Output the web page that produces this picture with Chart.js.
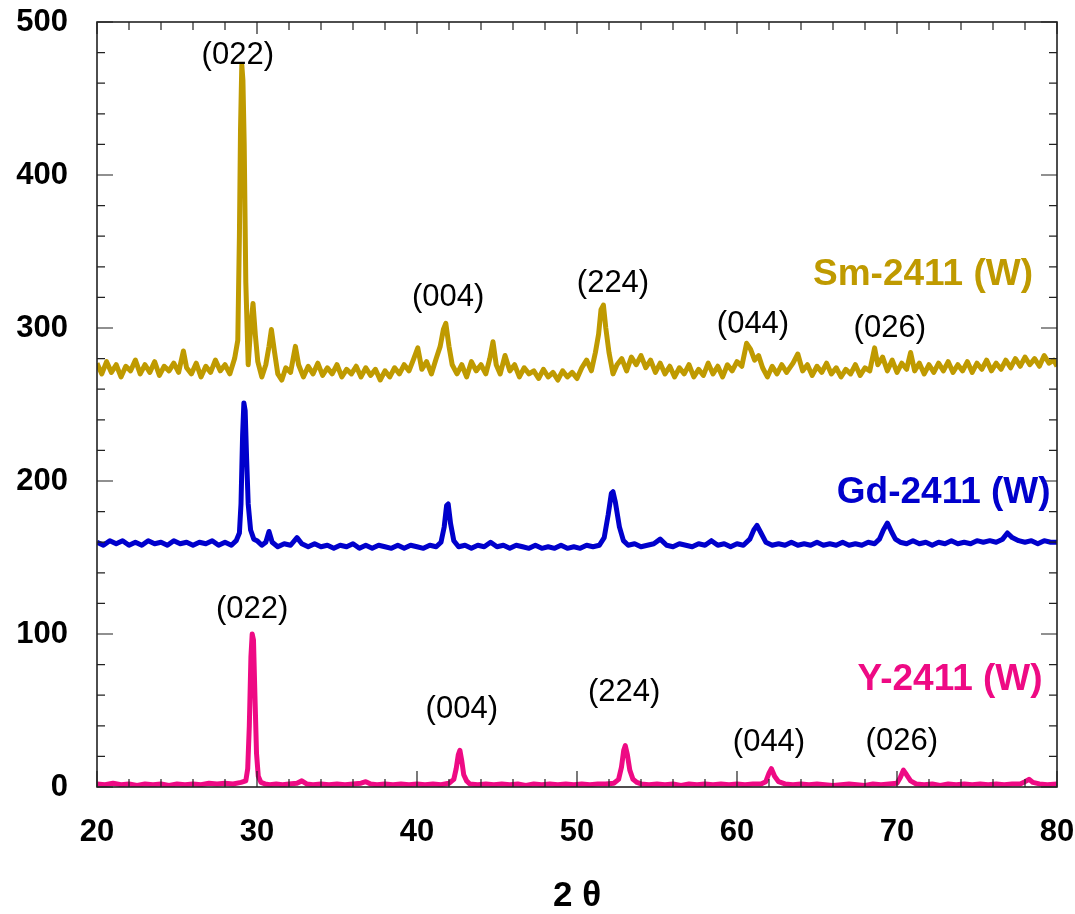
<!DOCTYPE html>
<html>
<head>
<meta charset="utf-8">
<title>XRD 2411 (W)</title>
<script src="https://cdn.jsdelivr.net/npm/chart.js@4/dist/chart.umd.min.js"></script>
<style>
  html, body { margin: 0; padding: 0; background: #fff; }
  #wrap { width: 1075px; height: 914px; }
</style>
</head>
<body>
<div id="wrap"><canvas id="xrd" width="1075" height="914"></canvas></div>
<script>
// [2theta, intensity]
const smPattern = [[20,277],[20.3,270],[20.6,278],[20.9,271],[21.2,276],[21.5,268],[21.8,275],[22.1,272],[22.4,279],[22.7,270],[23,276],[23.3,271],[23.6,278],[23.9,269],[24.2,275],[24.5,272],[24.8,277],[25.1,271],[25.4,285],[25.6,274],[25.9,270],[26.2,277],[26.5,268],[26.8,275],[27.1,271],[27.4,279],[27.7,272],[28,276],[28.3,270],[28.6,280],[28.8,292],[28.9,360],[28.97,430],[29.05,472],[29.12,462],[29.2,420],[29.3,330],[29.45,276],[29.6,300],[29.75,316],[29.9,295],[30.05,278],[30.3,268],[30.55,276],[30.75,288],[30.9,299],[31.1,284],[31.3,270],[31.55,266],[31.8,274],[32.1,271],[32.4,288],[32.6,276],[32.9,268],[33.2,275],[33.5,270],[33.8,277],[34.1,269],[34.4,274],[34.7,270],[35,276],[35.3,268],[35.6,273],[35.9,270],[36.2,275],[36.5,268],[36.8,274],[37.1,269],[37.4,273],[37.7,266],[38,272],[38.3,268],[38.6,274],[38.9,270],[39.2,276],[39.5,272],[39.8,280],[40.05,287],[40.3,273],[40.6,278],[40.9,270],[41.2,280],[41.45,288],[41.65,299],[41.8,303],[42,288],[42.2,276],[42.5,270],[42.8,276],[43.1,268],[43.4,278],[43.7,272],[44,276],[44.3,270],[44.55,280],[44.75,291],[44.95,276],[45.2,270],[45.5,282],[45.8,272],[46.1,276],[46.4,268],[46.7,274],[47,270],[47.3,272],[47.6,267],[47.9,273],[48.2,268],[48.5,271],[48.8,266],[49.1,272],[49.4,268],[49.7,271],[50,267],[50.3,274],[50.6,279],[50.9,272],[51.15,284],[51.35,296],[51.5,312],[51.65,315],[51.8,300],[52,284],[52.25,270],[52.5,276],[52.8,280],[53.1,272],[53.4,281],[53.7,276],[54,282],[54.3,274],[54.6,279],[54.9,271],[55.2,277],[55.5,270],[55.8,275],[56.1,268],[56.4,274],[56.7,270],[57,276],[57.3,268],[57.6,273],[57.9,269],[58.2,277],[58.5,270],[58.8,275],[59.1,268],[59.4,276],[59.7,272],[60,278],[60.3,275],[60.6,290],[60.85,286],[61.1,279],[61.35,282],[61.6,274],[61.9,268],[62.2,275],[62.5,270],[62.8,276],[63.1,271],[63.5,277],[63.8,283],[64.1,272],[64.4,276],[64.7,269],[65,275],[65.3,271],[65.6,277],[65.9,270],[66.2,274],[66.5,268],[66.8,273],[67.1,270],[67.4,276],[67.7,269],[68,274],[68.3,272],[68.6,287],[68.8,276],[69.1,281],[69.4,272],[69.7,279],[70,271],[70.3,277],[70.6,273],[70.85,284],[71.1,272],[71.4,277],[71.7,270],[72,276],[72.3,271],[72.6,277],[72.9,272],[73.2,278],[73.5,271],[73.8,276],[74.1,272],[74.4,278],[74.7,271],[75,277],[75.3,273],[75.6,279],[75.9,272],[76.2,277],[76.5,273],[76.8,279],[77.1,274],[77.4,280],[77.7,275],[78,281],[78.3,276],[78.6,280],[78.9,275],[79.2,282],[79.5,277],[79.8,279],[80,275]];

const gdPattern = [[20,160],[20.4,158],[20.8,161],[21.2,159],[21.6,161],[22,158],[22.4,160],[22.8,158],[23.2,161],[23.6,159],[24,160],[24.4,158],[24.8,161],[25.2,159],[25.6,160],[26,158],[26.4,160],[26.8,159],[27.2,161],[27.6,158],[28,160],[28.4,158],[28.7,161],[28.9,166],[29,185],[29.1,230],[29.18,251],[29.26,246],[29.35,215],[29.45,185],[29.6,168],[29.8,162],[30,161],[30.3,158],[30.55,160],[30.75,167],[30.95,160],[31.3,157],[31.7,159],[32.1,158],[32.5,163],[32.8,159],[33.2,157],[33.6,159],[34,157],[34.4,158],[34.8,156],[35.2,158],[35.6,157],[36,159],[36.4,156],[36.8,158],[37.2,156],[37.6,158],[38,157],[38.4,156],[38.8,158],[39.2,156],[39.6,158],[40,157],[40.4,156],[40.8,158],[41.2,157],[41.5,160],[41.7,170],[41.85,184],[41.95,185],[42.1,172],[42.3,161],[42.6,157],[43,158],[43.4,156],[43.8,158],[44.2,157],[44.6,160],[45,157],[45.4,158],[45.8,156],[46.2,158],[46.6,157],[47,156],[47.4,158],[47.8,156],[48.2,157],[48.6,156],[49,158],[49.4,156],[49.8,157],[50.2,156],[50.6,158],[51,157],[51.4,158],[51.7,163],[51.95,178],[52.15,192],[52.25,193],[52.4,186],[52.65,170],[52.9,161],[53.2,158],[53.6,159],[54,157],[54.4,158],[54.8,159],[55.2,162],[55.6,158],[56,157],[56.4,159],[56.8,158],[57.2,157],[57.6,159],[58,158],[58.4,161],[58.8,158],[59.2,159],[59.6,157],[60,159],[60.4,158],[60.8,162],[61.05,168],[61.25,171],[61.5,166],[61.8,160],[62.2,158],[62.6,159],[63,158],[63.4,160],[63.8,158],[64.2,159],[64.6,158],[65,160],[65.4,158],[65.8,159],[66.2,158],[66.6,160],[67,158],[67.4,159],[67.8,158],[68.2,160],[68.6,159],[68.9,162],[69.15,168],[69.4,172.5],[69.65,167],[69.9,162],[70.2,160],[70.6,159],[71,161],[71.4,159],[71.8,160],[72.2,158],[72.6,160],[73,159],[73.4,161],[73.8,159],[74.2,160],[74.6,159],[75,161],[75.4,160],[75.8,161],[76.2,160],[76.6,162],[76.9,166],[77.2,163],[77.6,161],[78,160],[78.4,161],[78.8,159],[79.2,161],[79.6,160],[80,160]];

const yPattern = [[20,2],[20.5,1.5],[21,2.5],[21.5,1.5],[22,2],[22.5,1],[23,2],[23.5,1.5],[24,2],[24.5,1],[25,2],[25.5,1.5],[26,2],[26.5,1.5],[27,2.5],[27.5,2],[28,2.5],[28.5,2],[29,3],[29.3,4],[29.42,12],[29.52,40],[29.62,85],[29.7,100],[29.78,96],[29.87,60],[29.97,22],[30.08,7],[30.25,3],[30.5,2],[30.8,1.5],[31.2,2],[31.6,1.5],[32,2],[32.5,2.5],[32.8,4],[33.1,2],[33.5,1.5],[34,2],[34.5,1.5],[35,2],[35.5,1.5],[36,2],[36.5,2.5],[36.8,3.5],[37.1,2],[37.5,1.5],[38,2],[38.5,1.5],[39,2],[39.5,1.5],[40,2],[40.5,1.5],[41,2],[41.5,1.5],[42,2.5],[42.3,5],[42.45,12],[42.58,21],[42.68,24],[42.8,17],[42.92,8],[43.1,4],[43.3,2],[43.8,1.5],[44.3,2],[44.8,1.5],[45.3,2],[45.8,1.5],[46.3,2],[46.8,1],[47.3,2],[47.8,1.5],[48.3,2],[48.8,1.5],[49.3,2],[49.8,1.5],[50.3,2],[50.8,1.5],[51.3,2],[51.8,2],[52.3,2.5],[52.6,5],[52.78,13],[52.92,24],[53.02,27],[53.15,21],[53.3,11],[53.5,5],[53.75,3],[54,2],[54.5,1.5],[55,2],[55.5,1.5],[56,2],[56.5,1],[57,2],[57.5,1.5],[58,2],[58.5,1.5],[59,2],[59.5,1.5],[60,2],[60.5,1.5],[61,2],[61.5,2],[61.8,3.5],[62,9],[62.15,12],[62.35,7],[62.6,3.5],[63,2],[63.5,1.5],[64,2],[64.5,1.5],[65,2],[65.5,1.5],[66,1],[66.5,1.5],[67,2],[67.5,1.5],[68,1],[68.5,2],[69,1.5],[69.5,2],[70,2.5],[70.2,6],[70.4,11],[70.6,8],[70.85,4],[71.2,2],[71.7,1.5],[72.2,2],[72.7,1],[73.2,2],[73.7,1.5],[74.2,2],[74.7,1.5],[75.2,2],[75.7,1.5],[76.2,2],[76.7,1.5],[77.2,2],[77.7,2],[78,3.5],[78.25,5],[78.5,3],[78.9,2],[79.4,1.5],[80,2]];

const sampleNames = ['Sm-2411 (W)', 'Gd-2411 (W)', 'Y-2411 (W)'];
const sampleColors = ['#BF9A00', '#0000CC', '#EE0A84'];

// Miller index labels, placed in data units
const smPeaks = [['(022)', 28.8, 478], ['(004)', 41.95, 320], ['(224)', 52.25, 329], ['(044)', 61.0, 302], ['(026)', 69.55, 300]];
const yPeaks = [['(022)', 29.7, 116], ['(004)', 42.8, 51], ['(224)', 52.95, 62], ['(044)', 62.0, 29], ['(026)', 70.3, 30]];
const nameSpots = [[78.5, 335], [79.6, 192], [79.1, 70]];

const FONT = 'Arial, "Liberation Sans", sans-serif';

const toXY = arr => arr.map(p => ({ x: p[0], y: p[1] }));

const frameTicks = {
    id: 'frameTicks',
    afterDatasetsDraw(chart) {
        const { ctx, chartArea: a, scales: { x, y } } = chart;
        ctx.save();
        ctx.strokeStyle = '#222';
        ctx.lineWidth = 1.2;
        ctx.beginPath();
        for (let v = 20; v <= 80; v += 2) {
            const px = x.getPixelForValue(v);
            const major = v % 10 === 0;
            ctx.moveTo(px, a.bottom); ctx.lineTo(px, a.bottom - (major ? 16 : 8));
            ctx.moveTo(px, a.top); ctx.lineTo(px, a.top + (major ? 12 : 8));
        }
        for (let v = 0; v <= 500; v += 20) {
            const py = y.getPixelForValue(v);
            const len = v % 100 === 0 ? 16 : 8;
            ctx.moveTo(a.left, py); ctx.lineTo(a.left + len, py);
            ctx.moveTo(a.right, py); ctx.lineTo(a.right - len, py);
        }
        ctx.stroke();
        ctx.lineWidth = 1.6;
        ctx.strokeRect(a.left, a.top, a.right - a.left, a.bottom - a.top);

        // peak labels
        ctx.fillStyle = '#000';
        ctx.font = `31px ${FONT}`;
        ctx.textAlign = 'center';
        ctx.textBaseline = 'middle';
        smPeaks.concat(yPeaks).forEach(([t, vx, vy]) => {
            ctx.fillText(t, x.getPixelForValue(vx), y.getPixelForValue(vy));
        });

        // sample names
        ctx.font = `bold 37px ${FONT}`;
        ctx.textAlign = 'right';
        nameSpots.forEach(([vx, vy], i) => {
            ctx.fillStyle = sampleColors[i];
            ctx.fillText(sampleNames[i], x.getPixelForValue(vx), y.getPixelForValue(vy));
        });
        ctx.restore();
    }
};

new Chart(document.getElementById('xrd'), {
    type: 'line',
    data: {
        datasets: [smPattern, gdPattern, yPattern].map((d, i) => ({
            label: sampleNames[i],
            data: toXY(d),
            borderColor: sampleColors[i],
            borderWidth: 5,
            borderJoinStyle: 'round',
            pointRadius: 0,
            tension: 0,
            fill: false
        }))
    },
    options: {
        responsive: false,
        animation: false,
        layout: { padding: { top: 22, right: 18, left: 0, bottom: 0 } },
        plugins: { legend: { display: false }, tooltip: { enabled: false } },
        scales: {
            x: {
                type: 'linear',
                min: 20,
                max: 80,
                grid: { display: false, drawTicks: false },
                border: { display: false },
                ticks: { stepSize: 10, padding: 27, color: '#000', font: { family: FONT, size: 31, weight: 'bold' } },
                title: { display: true, text: '2 θ', color: '#000', padding: 0, font: { family: FONT, size: 35, weight: 'bold', lineHeight: 1 } },
                afterFit: s => { s.height = 127; s.paddingLeft = 0; s.paddingRight = 0; }
            },
            y: {
                min: 0,
                max: 500,
                grid: { display: false, drawTicks: false },
                border: { display: false },
                ticks: { stepSize: 100, padding: 29, color: '#000', font: { family: FONT, size: 31, weight: 'bold' } },
                afterFit: s => { s.width = 97; s.paddingTop = 0; s.paddingBottom = 0; }
            }
        }
    },
    plugins: [frameTicks]
});
</script>
</body>
</html>
